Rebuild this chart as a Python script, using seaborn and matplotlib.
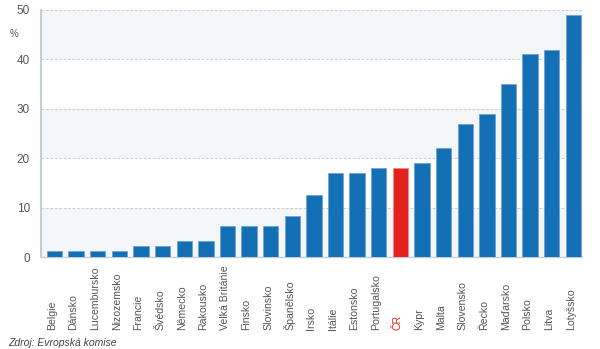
import matplotlib
matplotlib.use("Agg")
import matplotlib.pyplot as plt
import seaborn as sns
import pandas as pd

# Share of the population (%) by EU member state
countries = ["Belgie", "Dánsko", "Lucembursko", "Nizozemsko", "Francie", "Švédsko",
             "Německo", "Rakousko", "Velká Británie", "Finsko", "Slovinsko", "Španělsko",
             "Irsko", "Itálie", "Estonsko", "Portugalsko", "ČR", "Kypr", "Malta",
             "Slovensko", "Řecko", "Maďarsko", "Polsko", "Litva", "Lotyšsko"]
values = [1.2, 1.2, 1.2, 1.2, 2.2, 2.2, 3.2, 3.3, 6.2, 6.2, 6.2, 8.2,
          12.5, 17.0, 17.0, 18.0, 18.0, 19.0, 22.0, 27.0, 29.0, 35.0, 41.0, 42.0, 49.0]
highlight = "ČR"
y_ticks = [0, 10, 20, 30, 40, 50]

blue = "#1370b4"
red = "#e3211f"
text_gray = "#555555"
band_gray = "#f4f6f9"
grid_col = "#c9d1dc"
spine_col = "#c3cedb"

df = pd.DataFrame({"country": countries, "value": values})
palette = {c: (red if c == highlight else blue) for c in countries}

sns.set_theme(style="white")
plt.rcParams["font.family"] = ["Liberation Sans", "DejaVu Sans"]

fig = plt.figure(figsize=(6.0, 3.49), dpi=100)
ax = fig.add_axes([41 / 600, 1 - 257 / 349, 541 / 600, 247 / 349])

# alternating horizontal bands
for lo in y_ticks[:-1]:
    if (lo // 10) % 2 == 0:
        ax.axhspan(lo, lo + 10, color=band_gray, zorder=0, lw=0)

sns.barplot(data=df, x="country", y="value", hue="country", palette=palette,
            legend=False, width=0.71, saturation=1, ax=ax, zorder=3,
            edgecolor="#6fa3d3", linewidth=0.6)
bars = [b for cont in ax.containers for b in cont]
for patch, c in zip(bars, countries):
    if c == highlight:
        patch.set_edgecolor("#f08a88")

ax.set_xlim(-0.625, len(countries) - 1 + 0.4)
ax.set_ylim(0, 50)
ax.set_yticks(y_ticks)
ax.set_yticklabels([str(t) for t in y_ticks], fontsize=8.5, color=text_gray)
ax.tick_params(axis="y", length=0, pad=8)
for t in y_ticks[1:]:
    ax.axhline(t, color=grid_col, lw=0.8, ls=(0, (2.5, 1.5)), zorder=1)

ax.set_xticks([])
ax.set_xlabel("")
ax.set_ylabel("")

for s in ["top", "right"]:
    ax.spines[s].set_visible(False)
ax.spines["left"].set_color(spine_col)
ax.spines["left"].set_linewidth(1.5)
ax.spines["bottom"].set_color(spine_col)
ax.spines["bottom"].set_linewidth(1.0)

# rotated category labels, aligned at their start
trans = ax.get_xaxis_transform()
for i, c in enumerate(countries):
    ax.text(i - 0.12, -(330 - 257) / 247, c, rotation=90, ha="center", va="bottom",
            fontsize=7.6, color=(red if c == highlight else text_gray),
            transform=trans, clip_on=False)

fig.text(10 / 600, 1 - 34 / 349, "%", fontsize=7, color=text_gray, va="center")
fig.text(8 / 600, 1 - 343 / 349, "Zdroj: Evropská komise", fontsize=7.5,
         style="italic", color="#444444", va="center")

fig.savefig("out.png", dpi=100)
